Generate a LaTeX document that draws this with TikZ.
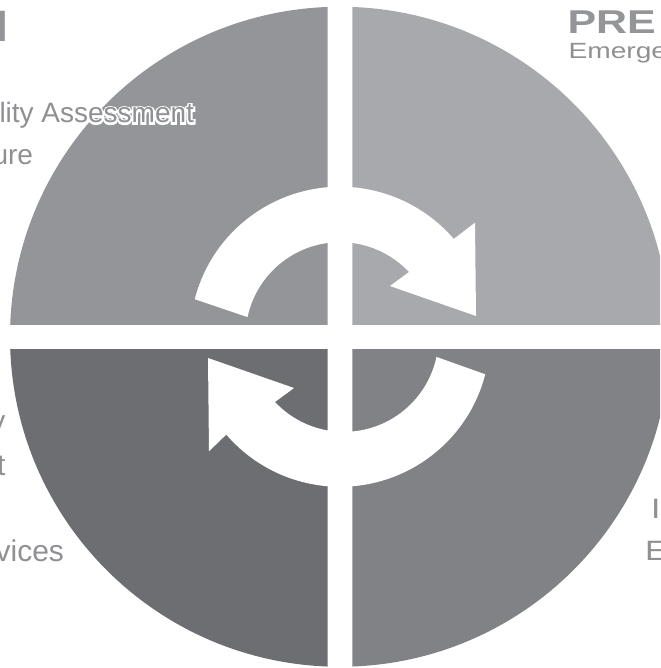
\documentclass[tikz,border=0pt]{standalone}
\usepackage{fontspec}
\setmainfont{Liberation Sans}
\newfontfamily\halofont[FakeBold=13]{Liberation Sans}
\usetikzlibrary{calc}
\definecolor{qTL}{HTML}{939598}
\definecolor{qTR}{HTML}{A7A9AC}
\definecolor{qBL}{HTML}{6D6E71}
\definecolor{qBR}{HTML}{808285}
\definecolor{txtgray}{HTML}{8E9093}
\tikzset{
  lbl/.style={inner sep=0pt, outer sep=0pt, text=txtgray},
  bigtxt/.style={lbl, font=\fontsize{28}{28}\selectfont},
  titletxt/.style={lbl, font=\bfseries\fontsize{33}{33}\selectfont, text=qTL},
  cyclearrow/.style={fill=white, draw=none}
}
\begin{document}
\begin{tikzpicture}[x=1pt,y=-1pt]
\useasboundingbox (0,0) rectangle (660,668);
\clip (0,0) rectangle (660,668);
\coordinate (C) at (340,336.75);
% quadrants
\begin{scope}
  \clip (-10,-10) rectangle (327.7,324.5);
  \fill[qTL] (C) circle[radius=330];
\end{scope}
\begin{scope}
  \clip (352.3,-10) rectangle (700,324.5);
  \fill[qTR] (C) circle[radius=330];
\end{scope}
\begin{scope}
  \clip (-10,349) rectangle (327.7,700);
  \fill[qBL] (C) circle[radius=330];
\end{scope}
\begin{scope}
  \clip (352.3,349) rectangle (700,700);
  \fill[qBR] (C) circle[radius=330];
\end{scope}
% cycle arrows
\foreach \rot in {0,180}{
  \begin{scope}[rotate around={\rot:(342,337)}]
    \fill[cyclearrow] ($(C)+(-165.5:150)$)
      arc[start angle=-165.5, end angle=-40.7, radius=150]
      -- (475,222.7) -- (476,316) -- (390,286) -- (409,272)
      arc[start angle=-43.2, end angle=-168, radius=94.6] -- cycle;
  \end{scope}
}
% texts top-left
\node[titletxt, font=\bfseries\fontsize{44}{44}\selectfont, anchor=base east] (tN) at (8.5,42) {N};
\node[lbl, text=white, font=\halofont\fontsize{28}{28}\selectfont, anchor=base west] (tAhalo) at (-0.5,123) {lity Assessment};
\node[bigtxt, anchor=base west] (tA) at (-0.5,123) {lity Assessment};
\node[bigtxt, anchor=base east] (tU) at (33,165) {ure};
% texts bottom-left
\node[bigtxt, font=\fontsize{30}{30}\selectfont, anchor=base east] (tY) at (5.5,431) {y};
\node[bigtxt, font=\fontsize{30}{30}\selectfont, anchor=base east] (tT) at (5.5,475) {t};
\node[bigtxt, font=\fontsize{30}{30}\selectfont, anchor=base east] (tV) at (64,561) {vices};
% texts top-right
\node[titletxt, anchor=base west] (tP) at (567.5,33.5) {\scalebox{1.3}[1]{PRE}};
\node[lbl, font=\fontsize{22}{22}\selectfont, anchor=base west] (tE) at (568.5,58.5) {\scalebox{1.28}[1]{Emerge}};
% texts bottom-right
\node[bigtxt, anchor=base west] (tI) at (651,518) {\scalebox{1.2}[1]{I}};
\node[bigtxt, anchor=base west] (tE2) at (645,560) {\scalebox{1.2}[1]{E}};
\end{tikzpicture}
\end{document}
